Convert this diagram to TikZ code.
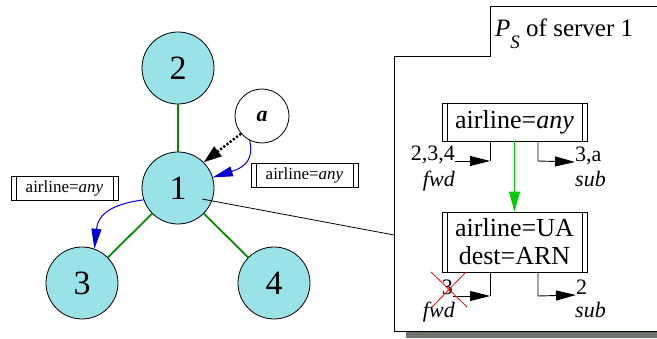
\documentclass[tikz,border=0pt]{standalone}
\usepackage{fontspec}
\setmainfont{Liberation Serif}
\usetikzlibrary{arrows.meta,calc}
\definecolor{nodecyan}{RGB}{153,226,232}
\definecolor{edgegreen}{RGB}{0,140,0}
\definecolor{arrowgreen}{RGB}{0,204,0}
\definecolor{flowblue}{RGB}{0,0,210}
\definecolor{shadowgray}{RGB}{110,115,108}
\begin{document}
\begin{tikzpicture}[x=1pt,y=-1pt,
  server/.style={circle,draw,line width=0.8pt,fill=nodecyan,minimum size=72pt,inner sep=0pt,font=\fontsize{34}{36}\selectfont},
  client/.style={circle,draw,line width=0.8pt,fill=white,minimum size=54pt,inner sep=0pt,font=\fontsize{22}{24}\selectfont\bfseries\itshape},
  treeedge/.style={edgegreen,line width=1.8pt},
  barbox/.style={draw,line width=0.9pt,fill=white,inner sep=0pt,
    path picture={
      \draw[line width=0.9pt] ([xshift=5pt]path picture bounding box.north west) -- ([xshift=5pt]path picture bounding box.south west);
      \draw[line width=0.9pt] ([xshift=-5pt]path picture bounding box.north east) -- ([xshift=-5pt]path picture bounding box.south east);}},
  smalllabel/.style={barbox,minimum width=107pt,minimum height=24pt,font=\fontsize{17}{19}\selectfont},
  filterbox/.style={barbox,minimum width=145pt,align=center,font=\fontsize{26}{28}\selectfont},
  paneltext/.style={font=\fontsize{22}{24}\selectfont,inner sep=0pt},
  bigtip/.style={-{Triangle[length=20pt,width=10pt]}},
  flow/.style={flowblue,line width=1pt,-{Triangle[length=20pt,width=10pt]}},
  cross/.style={red,line width=0.8pt}
]
\useasboundingbox (0,0) rectangle (657,339);

% servers
\node[server] (n2) at (178,68) {2};
\node[server] (n1) at (178,188) {1};
\node[server] (n3) at (82,283) {3};
\node[server] (n4) at (274,283) {4};
\node[client] (a) at (262,116) {a};

\draw[treeedge] (n1) -- (n2);
\draw[treeedge] (n1) -- (n3);
\draw[treeedge] (n1) -- (n4);

% labels
\node[smalllabel] (lab1) at (64.5,188) {airline=\textit{any}};
\node[smalllabel] (lab2) at (304.5,175.5) {airline=\textit{any}};

% arrows
\draw[dash pattern=on 2.2pt off 1.8pt,line width=2.4pt,-{Triangle[length=18pt,width=12pt]}] (a.220) -- (n1.45);
\draw[flow] (a.243) .. controls (254,158) and (246,167) .. (n1.17);
\draw[flow] (n1.199) .. controls (112,204) and (98,214) .. (n3.70);

% panel
\fill[shadowgray] (406,332) rectangle (657,338.5);
\draw[line width=1pt,fill=white] (657,7) -- (490,7) -- (490,57) -- (394,57) -- (394,332) -- (657,332);
\node[anchor=base west,inner sep=0pt,font=\fontsize{25}{28}\selectfont] (title) at (495,37)
  {\textit{P}\raisebox{-12pt}{\fontsize{19}{20}\selectfont\textit{S}} of server 1};

\coordinate (c1) at (202,199);
\coordinate (c2) at (394,235);
\draw[line width=0.8pt] (c1) -- (c2);

% filter boxes
\node[filterbox,minimum height=38pt] (tbox) at (514.5,122) {airline=\textit{any}};
\node[filterbox,minimum height=60pt] (bbox) at (514.5,242) {airline=UA\\dest=ARN};
\draw[arrowgreen,line width=1pt,-{Triangle[length=20pt,width=11pt]}] (tbox.south) -- (bbox.north);

% top connectors
\coordinate (tfl) at (490,161);
\coordinate (tfr) at (538,161);
\node[paneltext,anchor=base east] (l234) at (455,161) {2,3,4};
\node[paneltext,anchor=base east] (lfwd1) at (455,187) {\textit{fwd}};
\node[paneltext,anchor=base west] (l3a) at (575,162) {3,a};
\node[paneltext,anchor=base west] (lsub1) at (575,187) {\textit{sub}};
\draw[line width=0.9pt] (tbox.south -| tfl) -- (tfl);
\draw[line width=0.9pt,bigtip] (l234.base east) -- (tfl);
\draw[line width=0.9pt,bigtip] (tbox.south -| tfr) -- (tfr) -- (l3a.base west);

% bottom connectors
\coordinate (bfl) at (490,296);
\coordinate (bfr) at (538,296);
\coordinate (bst) at (453,296);
\node[paneltext,anchor=base east] (l3) at (453,295) {3};
\node[paneltext,anchor=base east] (lfwd2) at (455,318) {\textit{fwd}};
\node[paneltext,anchor=base west] (l2) at (576,295) {2};
\node[paneltext,anchor=base west] (lsub2) at (575,318) {\textit{sub}};
\draw[line width=0.9pt] (bbox.south -| bfl) -- (bfl);
\draw[line width=0.9pt,bigtip] (bst) -- (bfl);
\draw[line width=0.9pt,bigtip] (bbox.south -| bfr) -- (bfr) -- (l2.base west);
\coordinate (x1) at (431,272);
\coordinate (x2) at (467,307);
\coordinate (x3) at (466,272);
\coordinate (x4) at (432,307);
\draw[cross] (x1) -- (x2);
\draw[cross] (x3) -- (x4);
\end{tikzpicture}
\end{document}
